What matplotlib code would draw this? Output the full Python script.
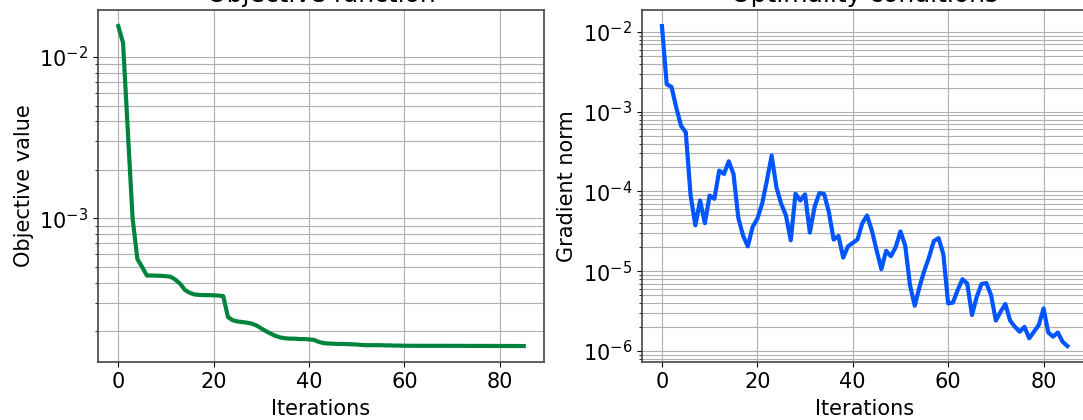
import numpy as np
import matplotlib
matplotlib.use("Agg")
import matplotlib.pyplot as plt

# objective value per iteration
objective = [
    1.556e-2, 1.226e-2, 3.48e-3, 1.0e-3, 5.61e-4, 5.0e-4, 4.43e-4, 4.43e-4,
    4.42e-4, 4.41e-4, 4.39e-4, 4.35e-4, 4.17e-4, 3.93e-4, 3.60e-4, 3.46e-4,
    3.38e-4, 3.36e-4, 3.35e-4, 3.35e-4, 3.34e-4, 3.33e-4, 3.30e-4, 2.45e-4,
    2.34e-4, 2.30e-4, 2.28e-4, 2.26e-4, 2.23e-4, 2.17e-4, 2.08e-4, 2.00e-4,
    1.93e-4, 1.87e-4, 1.83e-4, 1.81e-4, 1.80e-4, 1.80e-4, 1.79e-4, 1.79e-4,
    1.78e-4, 1.77e-4, 1.72e-4, 1.69e-4, 1.68e-4, 1.675e-4, 1.67e-4, 1.67e-4,
    1.665e-4, 1.66e-4, 1.655e-4, 1.645e-4, 1.64e-4, 1.64e-4, 1.64e-4, 1.64e-4,
    1.635e-4, 1.635e-4, 1.63e-4, 1.63e-4, 1.627e-4, 1.627e-4, 1.626e-4, 1.626e-4,
    1.625e-4, 1.625e-4, 1.625e-4, 1.625e-4, 1.625e-4, 1.624e-4, 1.624e-4, 1.624e-4,
    1.624e-4, 1.623e-4, 1.623e-4, 1.623e-4, 1.623e-4, 1.622e-4, 1.622e-4, 1.622e-4,
    1.622e-4, 1.621e-4, 1.621e-4, 1.621e-4, 1.62e-4, 1.62e-4,
]

# gradient norm per iteration
gradient = [
    1.19e-2, 2.22e-3, 2.05e-3, 1.13e-3, 6.68e-4, 5.52e-4, 9.0e-5, 3.76e-5,
    7.7e-5, 4.0e-5, 8.9e-5, 8.1e-5, 1.83e-4, 1.66e-4, 2.39e-4, 1.66e-4,
    4.7e-5, 2.8e-5, 2.05e-5, 3.58e-5, 4.55e-5, 7.0e-5, 1.37e-4, 2.82e-4,
    1.13e-4, 7.0e-5, 5.0e-5, 2.44e-5, 9.35e-5, 7.7e-5, 9.2e-5, 3.05e-5,
    6.4e-5, 9.55e-5, 9.3e-5, 5.5e-5, 2.49e-5, 2.77e-5, 1.48e-5, 2.05e-5,
    2.26e-5, 2.5e-5, 4.0e-5, 5.0e-5, 3.25e-5, 1.83e-5, 1.06e-5, 1.8e-5,
    1.54e-5, 2.0e-5, 3.15e-5, 2.1e-5, 6.7e-6, 3.68e-6, 6.37e-6, 1.01e-5,
    1.5e-5, 2.39e-5, 2.6e-5, 1.63e-5, 3.94e-6, 4.03e-6, 5.8e-6, 7.94e-6,
    7.0e-6, 2.82e-6, 4.78e-6, 6.9e-6, 7.1e-6, 5.0e-6, 2.4e-6, 3.1e-6,
    3.87e-6, 2.4e-6, 2.0e-6, 1.74e-6, 2.0e-6, 1.44e-6, 1.74e-6, 2.11e-6,
    3.41e-6, 1.7e-6, 1.51e-6, 1.7e-6, 1.3e-6, 1.15e-6,
]

iterations = np.arange(len(objective))

plt.rcParams['font.size'] = 15

fig = plt.figure(figsize=(10.83, 4.2), dpi=100)
ax1 = fig.add_axes([0.0905, 0.138, 0.4118, 0.838])
ax2 = fig.add_axes([0.5925, 0.138, 0.4118, 0.838])

ax1.semilogy(iterations, objective, color='#00843d', linewidth=3)
ax1.set_title('Objective function')
ax1.set_xlabel('Iterations', labelpad=5)
ax1.set_ylabel('Objective value')
ax1.grid(True, which='both')

ax2.semilogy(iterations, gradient, color='#0055ff', linewidth=3)
ax2.set_title('Optimality conditions')
ax2.set_xlabel('Iterations', labelpad=5)
ax2.set_ylabel('Gradient norm')
ax2.grid(True, which='both')

for ax in (ax1, ax2):
    for s in ax.spines.values():
        s.set_color('#444444')
        s.set_linewidth(1.2)

fig.savefig('out.png', dpi=100)
